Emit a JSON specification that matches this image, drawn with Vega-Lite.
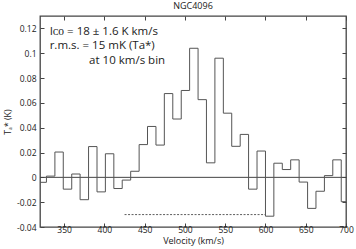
{
  "$schema": "https://vega.github.io/schema/vega-lite/v6.json",
  "width": 306,
  "height": 211,
  "autosize": "none",
  "padding": {"left": 40, "top": 16, "right": 10, "bottom": 22},
  "background": "white",
  "config": {
    "font": "Open Sans",
    "view": {"stroke": "#444", "strokeWidth": 1.3},
    "axis": {
      "domain": false,
      "grid": false,
      "tickColor": "#444",
      "tickSize": -4,
      "tickWidth": 1,
      "labelFont": "Open Sans",
      "labelFontSize": 8.5,
      "labelColor": "#222",
      "titleFont": "Open Sans",
      "titleFontSize": 9,
      "titleFontWeight": "normal",
      "titleColor": "#222"
    }
  },
  "title": {
    "text": "NGC4096",
    "font": "Open Sans",
    "fontSize": 9,
    "fontWeight": "normal",
    "color": "#222",
    "offset": 5
  },
  "datasets": {
    "spec": [
      {"v": 317.5, "t": -0.004},
      {"v": 328.0, "t": 0.001},
      {"v": 338.5, "t": 0.0204},
      {"v": 348.9, "t": -0.0095},
      {"v": 359.4, "t": 0.0027},
      {"v": 369.8, "t": -0.018},
      {"v": 380.3, "t": 0.0248},
      {"v": 390.8, "t": -0.0117},
      {"v": 401.2, "t": 0.019},
      {"v": 411.7, "t": -0.009},
      {"v": 422.1, "t": -0.0022},
      {"v": 432.6, "t": 0.0049},
      {"v": 443.1, "t": 0.0264},
      {"v": 453.5, "t": 0.041},
      {"v": 464.0, "t": 0.026},
      {"v": 474.4, "t": 0.0675},
      {"v": 484.9, "t": 0.047},
      {"v": 495.4, "t": 0.070},
      {"v": 505.8, "t": 0.104},
      {"v": 516.3, "t": 0.0626},
      {"v": 526.7, "t": 0.0117},
      {"v": 537.2, "t": 0.096},
      {"v": 547.7, "t": 0.0517},
      {"v": 558.1, "t": 0.025},
      {"v": 568.6, "t": 0.0346},
      {"v": 579.0, "t": -0.0095},
      {"v": 589.5, "t": 0.0212},
      {"v": 600.0, "t": -0.0313},
      {"v": 610.4, "t": 0.0114},
      {"v": 620.9, "t": 0.0063},
      {"v": 631.3, "t": 0.0141},
      {"v": 641.8, "t": -0.0038},
      {"v": 652.3, "t": -0.025},
      {"v": 662.7, "t": -0.0112},
      {"v": 673.2, "t": 0.0014},
      {"v": 683.6, "t": 0.0141},
      {"v": 694.1, "t": -0.0196},
      {"v": 704.6, "t": -0.0196}
    ],
    "notes": [
      {"v": 332, "t": 0.1148, "label": "Iᴄᴏ = 18 ± 1.6 K km/s"},
      {"v": 332, "t": 0.1034, "label": "r.m.s. = 15 mK (Ta*)"},
      {"v": 381, "t": 0.0911, "label": "at 10 km/s bin"}
    ]
  },
  "layer": [
    {
      "data": {"values": [{"y": 0}]},
      "mark": {"type": "rule", "color": "#444", "strokeWidth": 1},
      "encoding": {"y": {"field": "y", "type": "quantitative", "axis": null}}
    },
    {
      "data": {"values": [{"a": 425, "b": 600, "y": -0.03}]},
      "mark": {"type": "rule", "color": "#333", "strokeWidth": 0.8, "strokeDash": [2, 1.5]},
      "encoding": {
        "x": {"field": "a", "type": "quantitative", "axis": null},
        "x2": {"field": "b"},
        "y": {"field": "y", "type": "quantitative", "axis": null}
      }
    },
    {
      "data": {"name": "spec"},
      "mark": {"type": "line", "interpolate": "step-after", "color": "#555", "strokeWidth": 1, "clip": true},
      "encoding": {
        "x": {
          "field": "v", "type": "quantitative",
          "scale": {"domain": [320, 700], "nice": false, "zero": false},
          "axis": {"orient": "bottom", "values": [350, 400, 450, 500, 550, 600, 650, 700], "title": "Velocity (km/s)", "labelPadding": 2, "titlePadding": 3, "labelFlush": false}
        },
        "y": {
          "field": "t", "type": "quantitative",
          "scale": {"domain": [-0.04, 0.13], "nice": false, "zero": false},
          "axis": {"orient": "left", "values": [-0.04, -0.02, 0, 0.02, 0.04, 0.06, 0.08, 0.1, 0.12], "labelExpr": "'' + datum.value", "title": "Tₐ* (K)", "labelPadding": 8, "titlePadding": 4, "labelFlush": false}
        }
      }
    },
    {
      "data": {"name": "spec"},
      "mark": {"type": "line", "opacity": 0},
      "encoding": {
        "x": {
          "field": "v", "type": "quantitative",
          "axis": {"orient": "top", "values": [350, 400, 450, 500, 550, 600, 650, 700], "labels": false, "title": null}
        },
        "y": {
          "field": "t", "type": "quantitative",
          "axis": {"orient": "right", "values": [-0.04, -0.02, 0, 0.02, 0.04, 0.06, 0.08, 0.1, 0.12], "labels": false, "title": null}
        }
      }
    },
    {
      "data": {"name": "notes"},
      "mark": {"type": "text", "align": "left", "baseline": "alphabetic", "font": "Open Sans", "fontSize": 11.5, "color": "#222"},
      "encoding": {
        "x": {"field": "v", "type": "quantitative", "axis": null},
        "y": {"field": "t", "type": "quantitative", "axis": null},
        "text": {"field": "label"}
      }
    }
  ],
  "resolve": {"axis": {"x": "independent", "y": "independent"}}
}
